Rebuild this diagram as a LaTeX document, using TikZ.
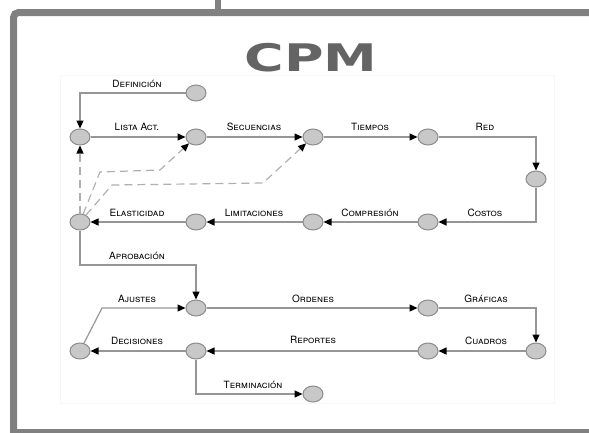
\documentclass[tikz,border=0pt]{standalone}
\usepackage{fontspec}
\setmainfont{TeX Gyre Heros}
\newfontfamily\titlefont{DejaVu Sans}
\usetikzlibrary{arrows.meta,shapes.geometric}
\definecolor{framegray}{RGB}{128,128,128}
\definecolor{linegray}{RGB}{150,150,150}
\definecolor{dashgray}{RGB}{175,175,175}
\definecolor{eventfill}{RGB}{200,200,200}
\definecolor{eventdraw}{RGB}{140,140,140}
\definecolor{titlegray}{RGB}{100,100,100}
\begin{document}
\begin{tikzpicture}
        [x=1pt,y=-1pt,
        event/.style={ellipse,draw=eventdraw,fill=eventfill,line width=1pt,
                minimum width=20pt,minimum height=16pt,inner sep=0pt},
        act/.style={font=\fontsize{10}{10}\selectfont,inner sep=0pt},
        arr/.style={-{Triangle[length=8pt,width=7pt,color=black]},draw=linegray,line width=1.2pt},
        dsh/.style={arr,draw=dashgray,dash pattern=on 8pt off 5pt}]
        \useasboundingbox (0,0) rectangle (589,432);
        \draw[framegray,line width=7pt,rounded corners=5pt] (589,12.5) -- (13.5,12.5) -- (13.5,432);
        \draw[framegray,line width=7pt] (10,432) -- (589,432);
        \draw[framegray,line width=6pt] (218,0) -- (218,12.5);
        \draw[black!3] (60,75) rectangle (554,403);
        \node (ttl) at (311,58) [font=\titlefont\bfseries\fontsize{38}{38}\selectfont,
                text=titlegray,xscale=1.42] {CPM};
        \node (df) at (196,93) [event] {};
        \node (a) at (80,137) [event] {};
        \node (b) at (196,137) [event] {};
        \node (c) at (313,137) [event] {};
        \node (d) at (428,137) [event] {};
        \node (e) at (536,179) [event] {};
        \node (f) at (428,222) [event] {};
        \node (g) at (313,222) [event] {};
        \node (h) at (196,222) [event] {};
        \node (i) at (80,222) [event] {};
        \node (j) at (196,308) [event] {};
        \node (k) at (428,308) [event] {};
        \node (l) at (536,351) [event] {};
        \node (m) at (428,351) [event] {};
        \node (n) at (196,351) [event] {};
        \node (o) at (80,351) [event] {};
        \node (p) at (313,394) [event] {};
        \node (ldef) at (137,84) [act] {\textsc{Definición}};
        \node (llis) at (137,127) [act] {\textsc{Lista Act.}};
        \node (lsec) at (254,127) [act] {\textsc{Secuencias}};
        \node (ltie) at (370,127) [act] {\textsc{Tiempos}};
        \node (lred) at (485,127) [act] {\textsc{Red}};
        \node (lcos) at (485,213) [act] {\textsc{Costos}};
        \node (lcom) at (370,213) [act] {\textsc{Compresión}};
        \node (llim) at (254,213) [act] {\textsc{Limitaciones}};
        \node (lela) at (137,213) [act] {\textsc{Elasticidad}};
        \node (lapr) at (137,256) [act] {\textsc{Aprobación}};
        \node (laju) at (137,299) [act] {\textsc{Ajustes}};
        \node (lord) at (313,299) [act] {\textsc{Ordenes}};
        \node (lgra) at (486,299) [act] {\textsc{Gráficas}};
        \node (lcua) at (486,341) [act] {\textsc{Cuadros}};
        \node (lrep) at (313,340) [act] {\textsc{Reportes}};
        \node (ldec) at (137,341) [act] {\textsc{Decisiones}};
        \node (lter) at (253,385) [act] {\textsc{Terminación}};
        \draw[arr] (df) -| (a);
        \draw[arr] (a) -- (b);
        \draw[arr] (b) -- (c);
        \draw[arr] (c) -- (d);
        \draw[arr] (d) -| (e);
        \draw[arr] (e) |- (f);
        \draw[arr] (f) -- (g);
        \draw[arr] (g) -- (h);
        \draw[arr] (h) -- (i);
        \draw[dsh] (i) -- (a);
        \draw[dsh] (i) -- (100,172) -- (160,170) -- (b);
        \draw[dsh] (i) -- (112,185) -- (263,183) -- (c);
        \draw[arr] (i) -- (80,265) -| (j);
        \draw[arr] (o) -- (102,308) -- (j);
        \draw[arr] (j) -- (k);
        \draw[arr] (k) -| (l);
        \draw[arr] (l) -- (m);
        \draw[arr] (m) -- (n);
        \draw[arr] (n) -- (o);
        \draw[arr] (n) |- (p);
\end{tikzpicture}
\end{document}
